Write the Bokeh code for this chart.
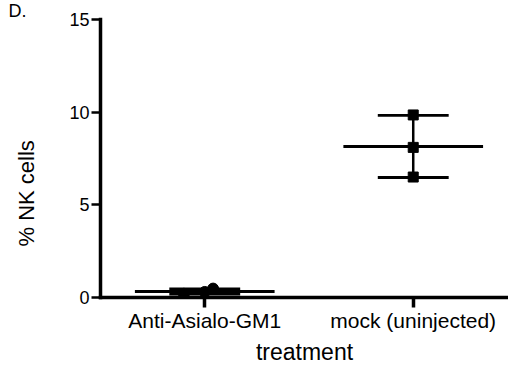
import numpy as np
from bokeh.plotting import figure
from bokeh.models import Range1d, FixedTicker, Title, ColumnDataSource
from bokeh.embed import file_html
from bokeh.resources import INLINE

# ---- data ----
categories = ["Anti-Asialo-GM1", "mock (uninjected)"]
anti_asialo = [0.2, 0.3, 0.48]
mock = [9.85, 8.1, 6.5]
y_ticks = [0, 5, 10, 15]
x_title = "treatment"
y_title = "% NK cells"
panel_tag = "D."

# ---- style / layout ----
FONT = "Liberation Sans"
groups = [anti_asialo, mock]
markers = ["circle", "square"]
marker_sizes = [11, 10]
spread = [[-0.10, 0.0, 0.04], [0.0, 0.0, 0.0]]  # horizontal point spread
MEAN_HALF = 0.335
CAP_HALF = 0.17
PX_PER_CAT = 209
W, H = 508, 367
LEFT, TOP, BOTTOM = 99, 19, 70
FRAME_W = W - LEFT

p = figure(width=W, height=H,
           x_range=Range1d(0.5, 0.5 + FRAME_W / PX_PER_CAT),
           y_range=Range1d(0, 15),
           output_backend="svg", toolbar_location=None,
           min_border_left=LEFT, min_border_right=0,
           min_border_top=TOP, min_border_bottom=BOTTOM)
p.outline_line_color = None
p.xgrid.visible = False
p.ygrid.visible = False
p.background_fill_color = "white"
p.border_fill_color = "white"

for ax in (p.xaxis[0], p.yaxis[0]):
    ax.axis_line_width = 3.5
    ax.axis_line_color = "black"
    ax.axis_line_cap = "square"
    ax.major_tick_line_color = "black"
    ax.major_tick_in = 0
    ax.minor_tick_line_color = None
    ax.major_label_text_font = FONT
    ax.major_label_text_color = "black"

p.yaxis.ticker = FixedTicker(ticks=y_ticks)
p.yaxis.major_tick_out = 9
p.yaxis.major_tick_line_width = 2.5
p.yaxis.major_label_text_font_size = "18px"
p.yaxis.major_label_standoff = 2
# blank spacer label: keeps the real title (below) at the reference's distance
p.yaxis.axis_label = " "
p.yaxis.axis_label_text_font_size = "9px"
p.yaxis.axis_label_standoff = 2

p.xaxis.ticker = FixedTicker(ticks=[i + 1 for i in range(len(categories))])
p.xaxis.major_label_overrides = {i + 1: c for i, c in enumerate(categories)}
p.xaxis.major_tick_out = 10
p.xaxis.major_tick_line_width = 3.5
p.xaxis.major_label_text_font_size = "21px"
p.xaxis.major_label_standoff = 1
p.xaxis.axis_label = x_title
p.xaxis.axis_label_text_font = FONT
p.xaxis.axis_label_text_color = "black"
p.xaxis.axis_label_text_font_size = "23px"
p.xaxis.axis_label_text_font_style = "normal"
p.xaxis.axis_label_standoff = 4

# ---- mean & SD bars, points ----
for i, vals in enumerate(groups):
    xc = i + 1
    arr = np.array(vals)
    m = arr.mean()
    sd = arr.std(ddof=1)
    p.segment(x0=[xc - MEAN_HALF], x1=[xc + MEAN_HALF], y0=[m], y1=[m],
              line_color="black", line_width=3)
    p.segment(x0=[xc], x1=[xc], y0=[m - sd], y1=[m + sd],
              line_color="black", line_width=2.5)
    p.segment(x0=[xc - CAP_HALF, xc - CAP_HALF], x1=[xc + CAP_HALF, xc + CAP_HALF],
              y0=[m - sd, m + sd], y1=[m - sd, m + sd],
              line_color="black", line_width=2.8)
    src = ColumnDataSource(dict(x=[xc + d for d in spread[i]], y=list(vals)))
    p.scatter("x", "y", source=src, marker=markers[i], size=marker_sizes[i],
              fill_color="black", line_color="black")

# ---- y title, placed below the frame centre as in the reference ----
p.add_layout(Title(text=y_title, align="left", offset=51, vertical_align="middle",
                   standoff=24, text_font=FONT, text_font_size="22px",
                   text_font_style="normal", text_color="black"), "left")

# ---- panel tag at the top-left corner ----
p.add_layout(Title(text=panel_tag, align="left", offset=-92, vertical_align="bottom",
                   standoff=-3.5, text_font=FONT, text_font_size="18px",
                   text_font_style="normal", text_color="black"), "above")

open("out.html", "w").write(file_html(p, INLINE))
